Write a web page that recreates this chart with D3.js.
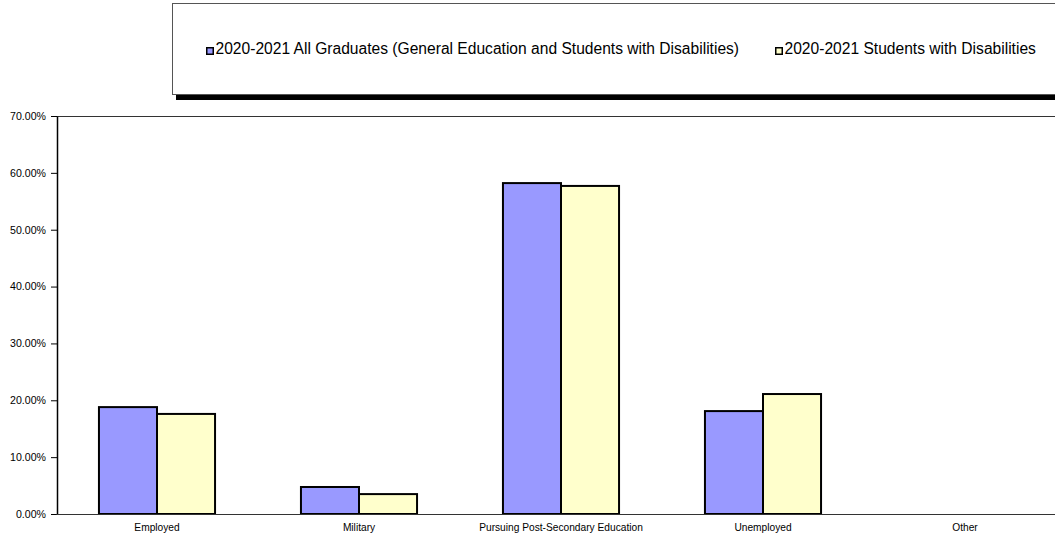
<!DOCTYPE html>
<html>
<head>
<meta charset="utf-8">
<script src="https://cdn.jsdelivr.net/npm/d3@7"></script>
<style>
  html, body { margin: 0; padding: 0; background: #fff; }
  svg { display: block; font-family: "Liberation Sans", Arial, sans-serif; }
</style>
</head>
<body>
<svg id="chart" width="1055" height="535"></svg>
<script>
const categories = ["Employed", "Military", "Pursuing Post-Secondary Education", "Unemployed", "Other"];
const seriesNames = [
  "2020-2021 All Graduates (General Education and Students with Disabilities)",
  "2020-2021 Students with Disabilities"
];
const allGraduates = [0.188, 0.0475, 0.582, 0.181, 0];
const studentsWithDisabilities = [0.176, 0.035, 0.577, 0.211, 0];
const yTicks = [0, 0.1, 0.2, 0.3, 0.4, 0.5, 0.6, 0.7];
const colors = ["#9999ff", "#ffffcc"];

const width = 1055;
const height = 535;
const plot = { left: 57, top: 116, bottom: 514, right: 1067 };

const svg = d3.select("#chart");

const x = d3.scaleBand().domain(categories).range([plot.left - 1, plot.right - 1]).padding(0);
const x1 = d3.scaleBand().domain(seriesNames).range([0, x.bandwidth()]).paddingInner(0).paddingOuter(0.74);
const y = d3.scaleLinear().domain([0, 0.7]).range([plot.bottom, plot.top]);

const rows = categories.map((c, i) => ({
  category: c,
  values: [
    { name: seriesNames[0], value: allGraduates[i], color: colors[0] },
    { name: seriesNames[1], value: studentsWithDisabilities[i], color: colors[1] }
  ]
}));

// plot area top border
svg.append("line")
  .attr("x1", plot.left).attr("x2", width)
  .attr("y1", plot.top + 0.5).attr("y2", plot.top + 0.5)
  .attr("stroke", "#333").attr("stroke-width", 1);

// bars
svg.append("g")
  .selectAll("g")
  .data(rows)
  .join("g")
  .attr("transform", (d) => `translate(${x(d.category)},0)`)
  .selectAll("rect")
  .data((d) => d.values.filter((v) => v.value > 0))
  .join("rect")
  .attr("x", (d) => x1(d.name))
  .attr("y", (d) => y(d.value))
  .attr("width", x1.bandwidth())
  .attr("height", (d) => y(0) - y(d.value))
  .attr("fill", (d) => d.color)
  .attr("stroke", "#000")
  .attr("stroke-width", 2);

// y axis
const yAxis = svg.append("g")
  .attr("transform", `translate(${plot.left},0)`)
  .call(d3.axisLeft(y).tickValues(yTicks).tickFormat(d3.format(".2%")).tickSize(6).tickSizeOuter(0));
yAxis.select(".domain").attr("stroke", "#000").attr("stroke-width", 1.5);
yAxis.selectAll(".tick line").attr("stroke", "#000");
yAxis.selectAll(".tick text")
  .attr("font-size", 10.6)
  .attr("font-family", "Liberation Sans, Arial, sans-serif")
  .attr("fill", "#000")
  .attr("x", -11);

// x axis
const xAxis = svg.append("g")
  .attr("transform", `translate(0,${plot.bottom})`)
  .call(d3.axisBottom(x).tickSize(0).tickSizeOuter(0));
xAxis.select(".domain").attr("stroke", "#333").attr("stroke-width", 1);
xAxis.selectAll(".tick text")
  .attr("font-size", 10.2)
  .attr("font-family", "Liberation Sans, Arial, sans-serif")
  .attr("fill", "#000")
  .attr("dy", "0.71em")
  .attr("y", 10);

// legend
const legend = svg.append("g");
legend.append("rect")
  .attr("x", 176).attr("y", 9)
  .attr("width", 900).attr("height", 91)
  .attr("fill", "#000");
legend.append("rect")
  .attr("x", 172.5).attr("y", 3.5)
  .attr("width", 900).attr("height", 91)
  .attr("fill", "#fff")
  .attr("stroke", "#555").attr("stroke-width", 1);

const legendX = [206, 775];
const legendItems = legend.selectAll("g.item")
  .data(seriesNames)
  .join("g")
  .attr("class", "item")
  .attr("transform", (d, i) => `translate(${legendX[i]},54)`);
legendItems.append("rect")
  .attr("x", 0.75).attr("y", -6.25)
  .attr("width", 6.5).attr("height", 6.5)
  .attr("fill", (d, i) => colors[i])
  .attr("stroke", "#000").attr("stroke-width", 1.5);
legendItems.append("text")
  .attr("x", 9.5)
  .attr("y", 0)
  .attr("font-size", 15.6)
  .attr("fill", "#000")
  .text((d) => d);
</script>
</body>
</html>
